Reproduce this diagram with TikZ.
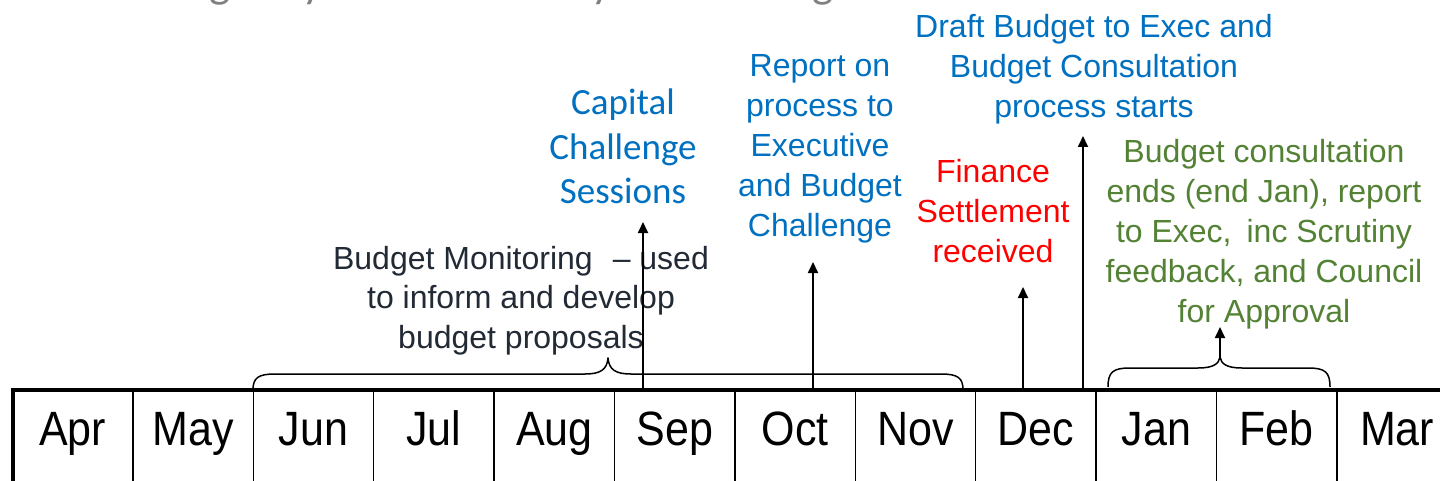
\documentclass[tikz,border=0pt]{standalone}
\usepackage{fontspec}
\setmainfont{Liberation Sans}
\newfontfamily\calibrifont{Carlito}
\usetikzlibrary{arrows.meta}
\definecolor{cblue}{RGB}{0,112,192}
\definecolor{cred}{RGB}{255,0,0}
\definecolor{cgreen}{RGB}{84,130,53}
\definecolor{cdark}{RGB}{34,42,53}
\definecolor{cgray}{RGB}{128,128,128}
\begin{document}
\begin{tikzpicture}[x=1pt,y=-1pt,
  lbl/.style={inner sep=0pt, anchor=north, align=center},
  arial/.style={font=\fontsize{32}{40}\selectfont},
  up/.style={line width=1.8pt, -{Triangle[length=11pt,width=10pt]}},
  brace/.style={line width=1.5pt, line join=round},
  month/.style={anchor=base, inner sep=0pt, font=\fontsize{43}{50}\selectfont},
  grid/.style={line width=1.5pt},
  thick grid/.style={line width=4pt}]
\useasboundingbox (0,0) rectangle (1440,481);
\clip (0,0) rectangle (1440,481);
\fill[white] (0,0) rectangle (1440,481);

% cut-off title (only descenders show)
\node[anchor=base west, inner sep=0pt, text=cgray,
  font=\calibrifont\fontsize{45}{54}\selectfont] (title) at (138,-2)
  {Budget Cycle and Delivery of the Budget};

% month table
\draw[thick grid] (10.5,390) -- (1440,390);
\draw[thick grid] (12.5,388) -- (12.5,481);
\foreach \i in {1,...,11}
  \draw[grid] (12.5+120.4*\i,390) -- (12.5+120.4*\i,481);
\foreach \m [count=\i from 0] in {Apr,May,Jun,Jul,Aug,Sep,Oct,Nov,Dec,Jan,Feb,Mar}
  \node[month] (m\i) at (72.7+120.4*\i,445) {\scalebox{1}[1.12]{\m}};

% labels
\node[lbl, arial, text=cblue] (draft) at (1094,14)
  {Draft Budget to Exec and\\Budget Consultation\\process starts};
\node[lbl, text=cblue, font=\calibrifont\fontsize{37}{44.5}\selectfont] (capital) at (623,89)
  {Capital\\Challenge\\Sessions};
\node[lbl, arial, text=cblue] (report) at (820,54)
  {Report on\\process to\\Executive\\and Budget\\Challenge};
\node[lbl, arial, text=cred] (finance) at (993,159)
  {Finance\\Settlement\\received};
\node[lbl, text=cdark, font=\fontsize{32}{39.5}\selectfont] (monitor) at (521,246)
  {Budget Monitoring\hspace{20pt}– used\\to inform and develop\\budget proposals};
\node[lbl, arial, text=cgreen] (consult) at (1264,139)
  {Budget consultation\\ends (end Jan), report\\to Exec,\hspace{15pt}inc Scrutiny\\feedback, and Council\\for Approval};

% braces
\draw[brace] (253,390) .. controls (253,378) and (258,374) .. (275,374) -- (585,374)
  .. controls (600,374) and (607,370) .. (608,358)
  .. controls (609,370) and (616,374) .. (631,374) -- (941,374)
  .. controls (958,374) and (963,378) .. (963,390);
\coordinate (b2tip) at (1220,357);
\draw[brace] (1108,387) .. controls (1108,372) and (1113,368) .. (1130,368) -- (1198,368)
  .. controls (1213,368) and (1219,364) .. (b2tip)
  .. controls (1221,364) and (1227,368) .. (1242,368) -- (1308,368)
  .. controls (1325,368) and (1330,372) .. (1330,387);

% arrows
\coordinate (capfoot) at (643,390);   \coordinate (captip) at (643,222);
\coordinate (repfoot) at (813,390);   \coordinate (reptip) at (813,262);
\coordinate (finfoot) at (1023,390);  \coordinate (fintip) at (1023,287);
\coordinate (drfoot) at (1083,390);   \coordinate (drtip) at (1083,136);
\coordinate (contip) at (1220,327);
\draw[up] (capfoot) -- (captip);
\draw[up] (repfoot) -- (reptip);
\draw[up] (finfoot) -- (fintip);
\draw[up] (drfoot) -- (drtip);
\draw[up] (b2tip) -- (contip);
\end{tikzpicture}
\end{document}
